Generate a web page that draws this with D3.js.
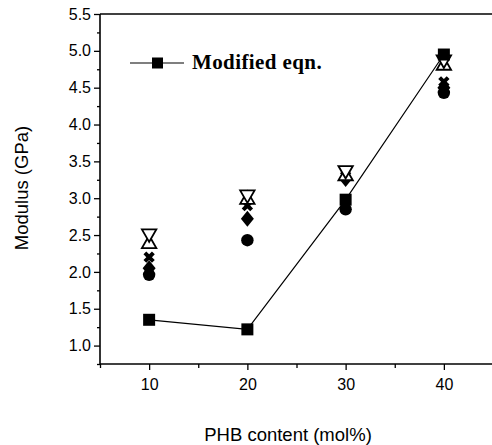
<!DOCTYPE html>
<html>
<head>
<meta charset="utf-8">
<script src="https://cdn.jsdelivr.net/npm/d3@7"></script>
<style>
  body { margin: 0; background: #fff; }
  svg { display: block; }
  text { font-family: "Liberation Sans", Arial, sans-serif; fill: #000; }
</style>
</head>
<body>
<div id="chart"></div>
<script>
// PHB content (mol%)
const phb = [10, 20, 30, 40];

// modified equation (line + filled squares)
const modifiedEqn = [1.35, 1.22, 2.98, 4.95];

// experimental symbols at each composition
const triDown = [2.52, 3.05, 3.38, 4.88];
const triUp   = [2.38, 2.98, 3.3, 4.8];
const crossX  = [2.2, 2.9, 3.3, 4.58];
const diamond = [2.05, 2.72, 3.26, 4.5];
const circle  = [1.96, 2.43, 2.85, 4.43];

const yTicks = [1.0, 1.5, 2.0, 2.5, 3.0, 3.5, 4.0, 4.5, 5.0, 5.5];
const xTicks = [10, 20, 30, 40];

const W = 492, H = 445;

let svg = d3.select("#chart").append("svg")
  .attr("width", W).attr("height", H);

let x = d3.scaleLinear().domain([5, 45]).range([100, 493]);
let y = d3.scaleLinear().domain([0.75, 5.5]).range([364, 14]);

// y axis
let yAxis = svg.append("g")
  .attr("transform", "translate(100,0)")
  .call(d3.axisLeft(y).tickValues(yTicks).tickFormat(d3.format(".1f")).tickSize(6).tickPadding(3));
svg.append("g")
  .attr("transform", "translate(100,0)")
  .call(d3.axisLeft(y).tickValues(d3.range(0.75, 5.5, 0.5)).tickFormat("").tickSize(3))
  .select(".domain").remove();

// x axis
let xAxis = svg.append("g")
  .attr("transform", "translate(0,364)")
  .call(d3.axisBottom(x).tickValues(xTicks).tickSize(6).tickPadding(9));
svg.append("g")
  .attr("transform", "translate(0,364)")
  .call(d3.axisBottom(x).tickValues([5, 15, 25, 35]).tickFormat("").tickSize(4))
  .select(".domain").remove();

yAxis.select(".domain").attr("d", "M0," + y(0.75) + "V" + y(5.5));
xAxis.select(".domain").attr("d", "M" + x(5) + ",0H" + x(45));
svg.selectAll(".domain").attr("stroke-width", 1.6);
svg.selectAll(".tick line").attr("stroke-width", 1.3);
svg.selectAll("g").attr("font-size", null).attr("font-family", null);
svg.selectAll(".tick text")
  .attr("font-size", 16)
  .style("font-size", "16px");

// top frame line
svg.append("line")
  .attr("x1", x(5)).attr("x2", x(45))
  .attr("y1", y(5.5)).attr("y2", y(5.5))
  .attr("stroke", "#000").attr("stroke-width", 1.6);

// axis titles
svg.append("text")
  .attr("x", 288).attr("y", 441)
  .attr("text-anchor", "middle")
  .style("font-size", "18.5px")
  .text("PHB content (mol%)");
svg.append("text")
  .attr("transform", "translate(28,188) rotate(-90)")
  .attr("text-anchor", "middle")
  .style("font-size", "18.5px")
  .text("Modulus (GPa)");

// experimental markers
function pts(vals) {
  return vals.map((v, i) => ({ x: phb[i], y: v }));
}
const sym = (type, size) => d3.symbol().type(type).size(size)();
const rhomb = { draw(ctx) { ctx.moveTo(0, -8); ctx.lineTo(6.5, 0); ctx.lineTo(0, 8); ctx.lineTo(-6.5, 0); ctx.closePath(); } };

let g = svg.append("g");

g.selectAll(".circ").data(pts(circle)).enter().append("circle")
  .attr("cx", d => x(d.x)).attr("cy", d => y(d.y)).attr("r", 6.2)
  .attr("fill", "#000");

g.selectAll(".dia").data(pts(diamond)).enter().append("path")
  .attr("transform", d => "translate(" + x(d.x) + "," + y(d.y) + ")")
  .attr("d", sym(rhomb, 64))
  .attr("fill", "#000");

g.selectAll(".crs").data(pts(crossX)).enter().append("path")
  .attr("transform", d => "translate(" + x(d.x) + "," + y(d.y) + ") rotate(45)")
  .attr("d", sym(d3.symbolCross, 80))
  .attr("fill", "#000");

g.selectAll(".tu").data(pts(triUp)).enter().append("path")
  .attr("transform", d => "translate(" + x(d.x) + "," + y(d.y) + ")")
  .attr("d", sym(d3.symbolTriangle, 90))
  .attr("fill", "#fff").attr("stroke", "#000").attr("stroke-width", 1.8);

g.selectAll(".td").data(pts(triDown)).enter().append("path")
  .attr("transform", d => "translate(" + x(d.x) + "," + y(d.y) + ") rotate(180)")
  .attr("d", sym(d3.symbolTriangle, 90))
  .attr("fill", "#fff").attr("stroke", "#000").attr("stroke-width", 1.8);

// modified eqn line
let line = d3.line().x(d => x(d.x)).y(d => y(d.y));
svg.append("path")
  .datum(pts(modifiedEqn))
  .attr("d", line)
  .attr("fill", "none").attr("stroke", "#000").attr("stroke-width", 1.2);

svg.selectAll(".sq").data(pts(modifiedEqn)).enter().append("rect")
  .attr("x", d => x(d.x) - 6).attr("y", d => y(d.y) - 6)
  .attr("width", 12).attr("height", 12)
  .attr("fill", "#000");

// legend
svg.append("line")
  .attr("x1", 130).attr("x2", 184).attr("y1", 63).attr("y2", 63)
  .attr("stroke", "#000").attr("stroke-width", 1.2);
svg.append("rect")
  .attr("x", 152).attr("y", 57.5).attr("width", 11).attr("height", 11)
  .attr("fill", "#000");
svg.append("text")
  .attr("x", 192).attr("y", 69)
  .style("font-family", "'Liberation Serif', 'Times New Roman', serif")
  .style("font-weight", "bold")
  .style("font-size", "21px")
  .style("letter-spacing", "0.4px")
  .text("Modified eqn.");
</script>
</body>
</html>
